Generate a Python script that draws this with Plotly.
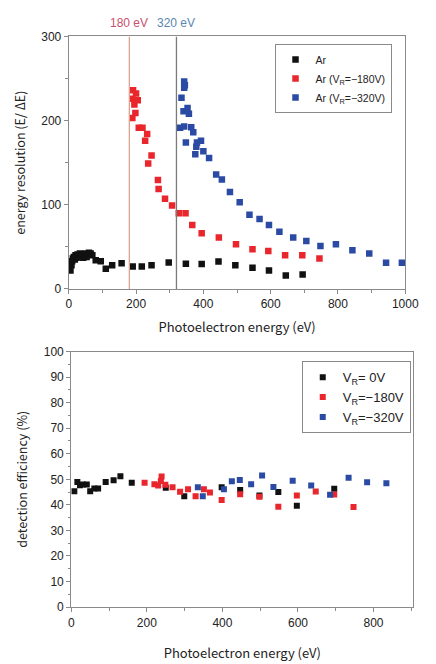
import plotly.graph_objects as go

# ---- Energy resolution (E/ΔE) vs photoelectron energy ----
res_ar_x = [5, 8, 10, 12, 15, 18, 20, 23, 26, 30, 33, 36, 40, 43, 46, 50, 53, 57, 60, 65, 70,
            80, 95, 110, 129, 157, 190, 217, 246, 297, 348, 395, 445, 495, 546, 595, 645, 695]
res_ar_y = [22, 28, 33, 36, 38, 35, 40, 37, 41, 38, 42, 39, 41, 37, 40, 42, 38, 41, 43, 42, 40,
            34, 33, 24, 28, 30.5, 26.5, 26.5, 28, 31.5, 30, 29.5, 32.5, 28, 25, 22, 16, 17]

res_180_x = [191, 200, 189, 205, 195, 198, 189, 208, 219, 233, 227, 246, 236, 265, 267,
             286, 307, 327, 347, 367, 395, 446, 497, 546, 593, 643, 694, 745]
res_180_y = [236, 232, 226, 224, 219, 209, 203, 191.5, 191.5, 184, 176, 158.5, 149, 129.4, 118.6,
             107, 99, 90, 90, 76, 66, 61, 53, 47, 45, 40, 40, 36]

res_320_x = [343, 345, 343, 335, 341, 353, 357, 331, 343, 364, 370, 348, 381, 393, 379, 400,
             376, 417, 438, 455, 479, 508, 537, 567, 595, 626, 667, 706, 748, 794, 843, 893,
             943, 990]
res_320_y = [246.5, 242, 239, 227, 211, 215, 208, 191.5, 193, 192, 186, 174, 174, 176, 169, 163.6,
             160, 155.5, 136, 130, 115, 103, 88, 83, 76, 68, 61, 57, 51, 53, 46, 42, 31, 31]

# ---- Detection efficiency (%) vs photoelectron energy ----
eff_0_x = [8, 16, 23, 31, 41, 50, 61, 71, 91, 112, 130, 160, 250, 299, 398, 447, 498, 548,
           597, 696]
eff_0_y = [45.3, 49, 47.7, 48, 48, 45.3, 46.4, 46.4, 49, 49.6, 51.2, 48.7, 46.7, 43.4, 46.9,
           45.8, 43.7, 45, 39.7, 46.3]

eff_180_x = [194, 220, 230, 239, 237, 249, 268, 288, 309, 329, 351, 367, 398, 447, 498, 548,
             597, 647, 696, 747]
eff_180_y = [48.7, 48.1, 47.6, 51.1, 49.3, 47.9, 46.9, 45.1, 46.1, 43.4, 46.1, 44.8, 41.9, 44.2,
             43.2, 39.3, 43.7, 45.2, 44.1, 39.2]

eff_320_x = [335, 348, 404, 425, 446, 476, 505, 535, 586, 635, 685, 734, 783, 834]
eff_320_y = [46.9, 43.4, 46.1, 49.2, 49.7, 48.1, 51.5, 47, 49.4, 47.6, 44, 50.6, 48.9, 48.5]

res_names = ["Ar", "Ar (V<sub>R</sub>=−180V)", "Ar (V<sub>R</sub>=−320V)"]
eff_names = ["V<sub>R</sub>= 0V", "V<sub>R</sub>=−180V", "V<sub>R</sub>=−320V"]
marks = [("180 eV", 180, "#c8506e", "#dca48e"), ("320 eV", 320, "#5a86b0", "#7a7a7a")]

BLACK, RED, BLUE = "#111111", "#e8262c", "#2b4aa3"
FONT = "Noto Sans CJK JP"
FRAME = "#8a8a8a"

fig = go.Figure()

for xs, ys, c, n in [(res_ar_x, res_ar_y, BLACK, res_names[0]),
                     (res_180_x, res_180_y, RED, res_names[1]),
                     (res_320_x, res_320_y, BLUE, res_names[2])]:
    fig.add_trace(go.Scatter(x=xs, y=ys, mode="markers", name=n, xaxis="x", yaxis="y",
                             marker=dict(symbol="square", size=6.5, color=c),
                             legend="legend"))

for xs, ys, c, n in [(eff_0_x, eff_0_y, BLACK, eff_names[0]),
                     (eff_180_x, eff_180_y, RED, eff_names[1]),
                     (eff_320_x, eff_320_y, BLUE, eff_names[2])]:
    fig.add_trace(go.Scatter(x=xs, y=ys, mode="markers", name=n, xaxis="x2", yaxis="y2",
                             marker=dict(symbol="square", size=6, color=c),
                             legend="legend2"))

# vertical markers at the retarding energies
for label, xv, tcol, lcol in marks:
    fig.add_shape(type="line", xref="x", yref="y", x0=xv, x1=xv, y0=0, y1=300,
                  line=dict(color=lcol, width=1.3))
    fig.add_annotation(x=xv, y=1, xref="x", yref="paper",
                       yanchor="middle", text=label, showarrow=False, yshift=-16,
                       font=dict(family="Liberation Sans", size=12, color=tcol))

axis_common = dict(showline=True, linecolor=FRAME, linewidth=1.2, mirror=True,
                   ticks="outside", ticklen=4, tickcolor=FRAME, showgrid=False,
                   zeroline=False, tickfont=dict(family="Liberation Sans", size=12, color="#222"))

fig.update_layout(
    width=436, height=664, margin=dict(l=0, r=0, t=0, b=0),
    paper_bgcolor="white", plot_bgcolor="white", showlegend=True,
    xaxis=dict(domain=[0.157, 0.960], range=[0, 1000], dtick=200, anchor="y",
               minor=dict(dtick=100, ticks="outside", ticklen=2.5, tickcolor=FRAME),
               title=dict(text="Photoelectron energy (eV)", standoff=12,
                          font=dict(family=FONT, size=13, color="#222")),
               **axis_common),
    yaxis=dict(domain=[0.5663, 0.9548], range=[0, 300], dtick=100, anchor="x",
               minor=dict(dtick=50, ticks="outside", ticklen=2.5, tickcolor=FRAME),
               title=dict(text="energy resolution (E/ ΔE)", standoff=12,
                          font=dict(family=FONT, size=12.5, color="#222")),
               **axis_common),
    xaxis2=dict(domain=[0.163, 0.979], range=[0, 905], dtick=200, anchor="y2",
                minor=dict(dtick=100, ticks="outside", ticklen=2.5, tickcolor=FRAME),
                title=dict(text="Photoelectron energy (eV)", standoff=20,
                           font=dict(family=FONT, size=13, color="#222")),
                **axis_common),
    yaxis2=dict(domain=[0.0768, 0.4699], range=[0, 100], dtick=10, anchor="x2",
                minor=dict(dtick=5, ticks="outside", ticklen=2.5, tickcolor=FRAME),
                title=dict(text="detection efficiency (%)", standoff=13,
                           font=dict(family=FONT, size=12.5, color="#222")),
                **axis_common),
    legend=dict(x=0.648, y=0.943, xanchor="left", yanchor="top",
                bordercolor=FRAME, borderwidth=1, bgcolor="white",
                font=dict(family="Liberation Sans", size=10.5, color="#222"),
                itemwidth=30, tracegroupgap=0),
    legend2=dict(x=0.713, y=0.455, xanchor="left", yanchor="top",
                 bordercolor=FRAME, borderwidth=1, bgcolor="white",
                 font=dict(family="Liberation Sans", size=13, color="#222"),
                 itemwidth=30, tracegroupgap=0),
)

fig.write_html("out.html")
